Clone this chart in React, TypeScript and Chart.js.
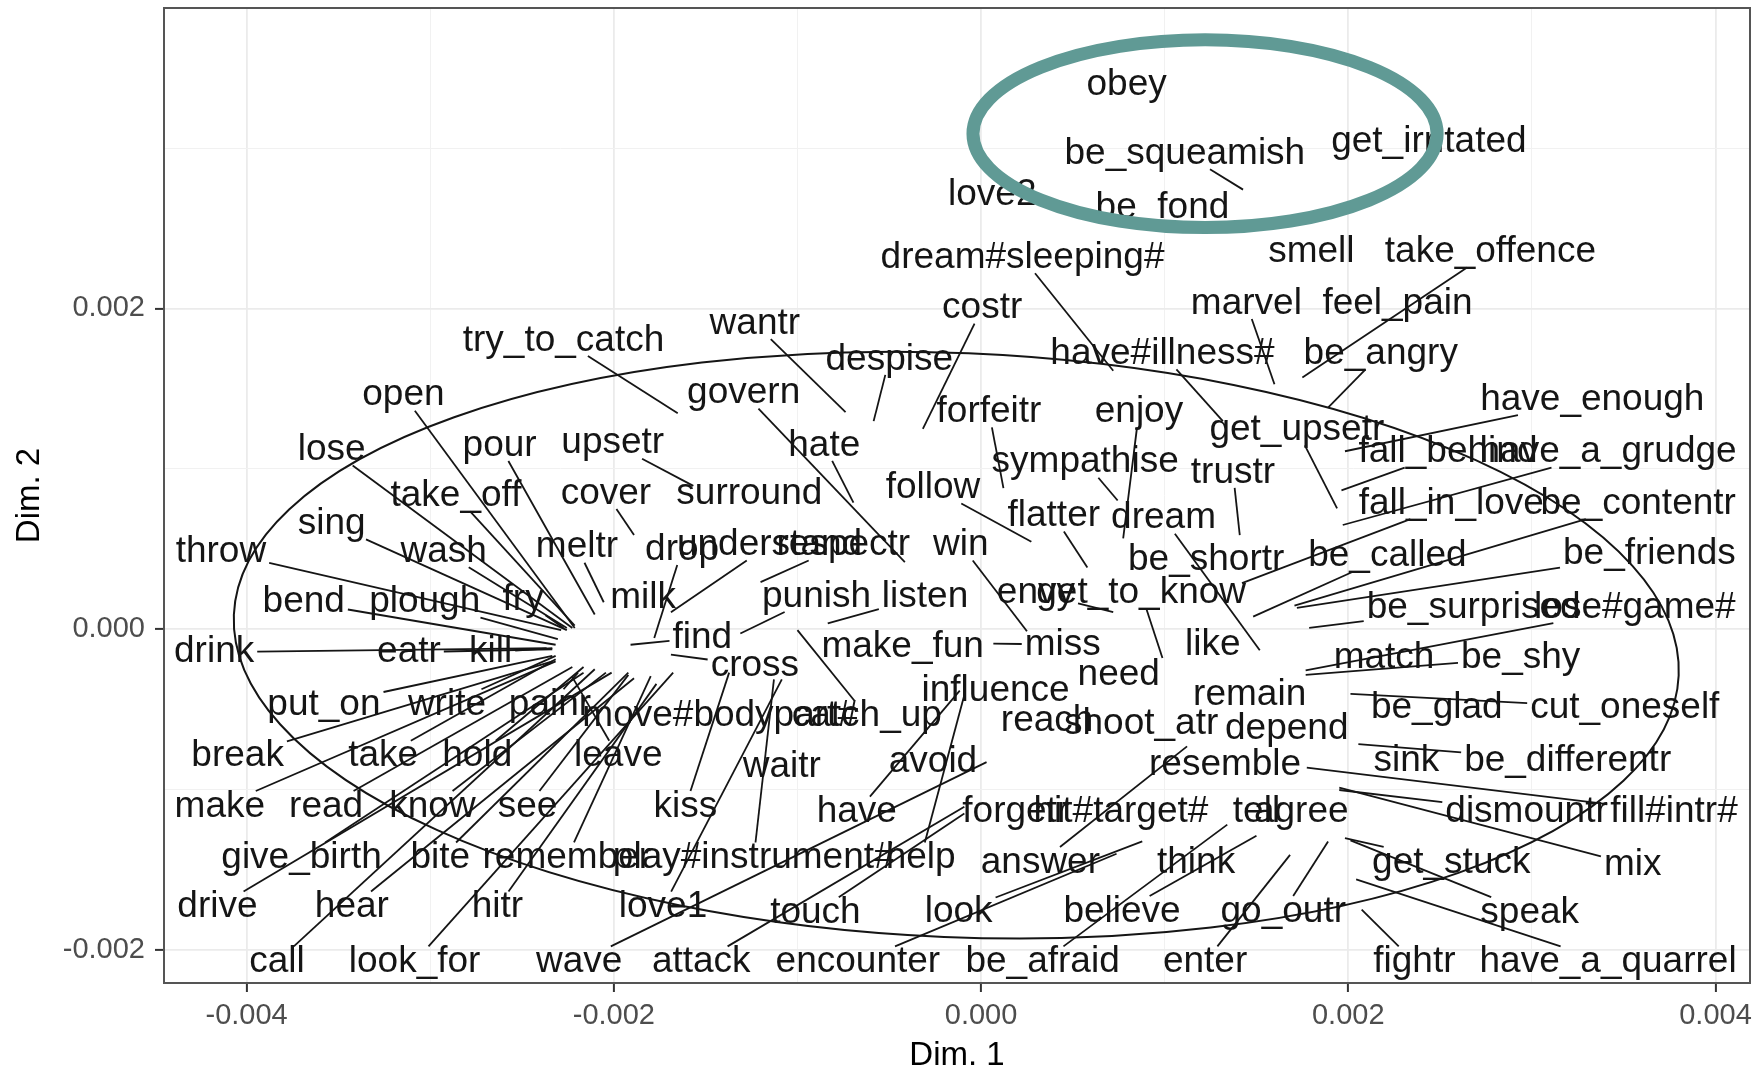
import React, { useEffect, useRef } from "react";
import { Chart, registerables } from "chart.js";

Chart.register(...registerables);

// ---------------- data (Dim. 1 / Dim. 2 coordinates) ----------------
const verbs = [
  "obey", "be_squeamish", "get_irritated", "love2", "be_fond",
  "dream#sleeping#", "smell", "take_offence", "marvel", "feel_pain",
  "costr", "wantr", "try_to_catch", "have#illness#", "be_angry",
  "despise", "open", "govern", "have_enough", "forfeitr",
  "enjoy", "get_upsetr", "lose", "pour", "upsetr",
  "hate", "fall_behind", "have_a_grudge", "trustr", "sympathise",
  "take_off", "cover", "surround", "follow", "fall_in_love",
  "be_contentr", "flatter", "dream", "sing", "throw",
  "wash", "meltr", "drop", "understand", "respectr",
  "win", "be_shortr", "be_called", "be_friends", "bend",
  "plough", "fry", "milk", "punish", "listen",
  "envy", "get_to_know", "be_surprised", "lose#game#", "drink",
  "eatr", "kill", "find", "make_fun", "miss",
  "like", "match", "be_shy", "cross", "need",
  "influence", "remain", "put_on", "write", "painr",
  "move#bodypart#", "catch_up", "cut_oneself", "be_glad", "reach",
  "shoot_atr", "depend", "break", "take", "hold",
  "leave", "sink", "be_differentr", "waitr", "avoid",
  "resemble", "make", "read", "know", "see",
  "kiss", "have", "forgetr", "hit#target#", "tell",
  "agree", "dismountr", "fill#intr#", "give_birth", "bite",
  "remember", "play#instrument#", "help", "answer", "think",
  "mix", "get_stuck", "drive", "hear", "hitr",
  "love1", "touch", "look", "believe", "go_outr",
  "speak", "call", "look_for", "wave", "attack",
  "encounter", "be_afraid", "enter", "fightr", "have_a_quarrel",
];

// label positions
const textX = [
  0.793e-3, 1.110e-3, 2.439e-3, 0.061e-3, 0.988e-3,
  0.226e-3, 1.799e-3, 2.774e-3, 1.445e-3, 2.268e-3,
  0.006e-3, -1.232e-3, -2.274e-3, 0.988e-3, 2.177e-3,
  -0.500e-3, -3.146e-3, -1.293e-3, 3.329e-3, 0.043e-3,
  0.860e-3, 1.720e-3, -3.537e-3, -2.622e-3, -2.006e-3,
  -0.854e-3, 2.543e-3, 3.415e-3, 1.372e-3, 0.567e-3,
  -2.860e-3, -2.043e-3, -1.262e-3, -0.262e-3, 2.561e-3,
  3.579e-3, 0.396e-3, 0.994e-3, -3.537e-3, -4.140e-3,
  -2.927e-3, -2.201e-3, -1.628e-3, -1.152e-3, -0.750e-3,
  -0.110e-3, 1.226e-3, 2.213e-3, 3.640e-3, -3.689e-3,
  -3.030e-3, -2.494e-3, -1.841e-3, -0.896e-3, -0.305e-3,
  0.299e-3, 0.872e-3, 2.683e-3, 3.561e-3, -4.177e-3,
  -3.116e-3, -2.671e-3, -1.518e-3, -0.427e-3, 0.445e-3,
  1.262e-3, 2.195e-3, 2.939e-3, -1.232e-3, 0.750e-3,
  0.079e-3, 1.463e-3, -3.579e-3, -2.909e-3, -2.348e-3,
  -1.421e-3, -0.622e-3, 3.506e-3, 2.482e-3, 0.360e-3,
  0.872e-3, 1.665e-3, -4.049e-3, -3.256e-3, -2.744e-3,
  -1.976e-3, 2.317e-3, 3.195e-3, -1.085e-3, -0.262e-3,
  1.329e-3, -4.146e-3, -3.567e-3, -2.988e-3, -2.470e-3,
  -1.610e-3, -0.677e-3, 0.189e-3, 0.762e-3, 1.500e-3,
  1.744e-3, 2.971e-3, 3.774e-3, -3.701e-3, -2.945e-3,
  -2.256e-3, -1.238e-3, -0.329e-3, 0.323e-3, 1.171e-3,
  3.549e-3, 2.561e-3, -4.159e-3, -3.427e-3, -2.634e-3,
  -1.732e-3, -0.902e-3, -0.122e-3, 0.768e-3, 1.646e-3,
  2.988e-3, -3.835e-3, -3.085e-3, -2.189e-3, -1.524e-3,
  -0.671e-3, 0.335e-3, 1.220e-3, 2.360e-3, 3.415e-3,
];
const textY = [
  3.410e-3, 2.978e-3, 3.054e-3, 2.720e-3, 2.643e-3,
  2.329e-3, 2.364e-3, 2.364e-3, 2.043e-3, 2.043e-3,
  2.015e-3, 1.918e-3, 1.813e-3, 1.729e-3, 1.729e-3,
  1.695e-3, 1.471e-3, 1.485e-3, 1.444e-3, 1.367e-3,
  1.367e-3, 1.255e-3, 1.130e-3, 1.158e-3, 1.172e-3,
  1.158e-3, 1.116e-3, 1.116e-3, 0.990e-3, 1.053e-3,
  0.844e-3, 0.858e-3, 0.858e-3, 0.893e-3, 0.795e-3,
  0.795e-3, 0.718e-3, 0.704e-3, 0.669e-3, 0.495e-3,
  0.495e-3, 0.523e-3, 0.509e-3, 0.537e-3, 0.537e-3,
  0.537e-3, 0.446e-3, 0.467e-3, 0.481e-3, 0.181e-3,
  0.181e-3, 0.195e-3, 0.209e-3, 0.216e-3, 0.216e-3,
  0.237e-3, 0.237e-3, 0.146e-3, 0.146e-3, -0.132e-3,
  -0.132e-3, -0.132e-3, -0.042e-3, -0.098e-3, -0.084e-3,
  -0.084e-3, -0.167e-3, -0.167e-3, -0.216e-3, -0.272e-3,
  -0.370e-3, -0.397e-3, -0.460e-3, -0.460e-3, -0.460e-3,
  -0.530e-3, -0.530e-3, -0.481e-3, -0.481e-3, -0.558e-3,
  -0.579e-3, -0.607e-3, -0.781e-3, -0.781e-3, -0.781e-3,
  -0.781e-3, -0.809e-3, -0.809e-3, -0.844e-3, -0.816e-3,
  -0.837e-3, -1.095e-3, -1.095e-3, -1.095e-3, -1.095e-3,
  -1.095e-3, -1.130e-3, -1.130e-3, -1.130e-3, -1.130e-3,
  -1.130e-3, -1.130e-3, -1.130e-3, -1.416e-3, -1.416e-3,
  -1.416e-3, -1.416e-3, -1.416e-3, -1.444e-3, -1.444e-3,
  -1.457e-3, -1.444e-3, -1.722e-3, -1.722e-3, -1.722e-3,
  -1.722e-3, -1.757e-3, -1.750e-3, -1.750e-3, -1.750e-3,
  -1.757e-3, -2.064e-3, -2.064e-3, -2.064e-3, -2.064e-3,
  -2.064e-3, -2.064e-3, -2.064e-3, -2.064e-3, -2.064e-3,
];

// actual point positions (null = the label sits on its point, no leader line)
const pointX = [
  null, 1.427e-3, null, null, null,
  0.720e-3, null, 1.750e-3, 1.598e-3, null,
  -0.317e-3, -0.738e-3, -1.652e-3, 1.317e-3, 1.890e-3,
  -0.585e-3, -2.213e-3, -0.415e-3, 1.982e-3, 0.122e-3,
  0.774e-3, 1.939e-3, -2.226e-3, -2.104e-3, -1.567e-3,
  -0.695e-3, 1.963e-3, 1.970e-3, 1.409e-3, 0.744e-3,
  -2.213e-3, -1.890e-3, null, 0.274e-3, 1.421e-3,
  1.707e-3, 0.579e-3, 1.518e-3, -2.256e-3, -2.287e-3,
  -2.256e-3, -2.055e-3, -1.780e-3, -1.689e-3, -1.201e-3,
  0.250e-3, null, 1.482e-3, 1.720e-3, -2.317e-3,
  -2.305e-3, -2.274e-3, null, -1.311e-3, -0.835e-3,
  0.720e-3, 0.988e-3, 1.787e-3, 1.768e-3, -2.366e-3,
  -2.335e-3, -2.335e-3, -1.909e-3, null, 0.067e-3,
  null, null, 1.768e-3, -1.689e-3, null,
  null, null, -2.335e-3, -2.317e-3, -2.195e-3,
  null, -1.000e-3, 2.012e-3, null, null,
  null, null, -2.335e-3, -2.317e-3, -2.165e-3,
  -2.226e-3, null, 2.055e-3, null, null,
  null, -2.317e-3, -2.226e-3, -2.043e-3, -1.921e-3,
  -1.372e-3, -0.116e-3, null, null, null,
  null, 1.951e-3, 1.774e-3, -2.165e-3, -1.921e-3,
  -1.799e-3, -1.128e-3, -0.091e-3, 1.122e-3, null,
  1.951e-3, 1.982e-3, -2.012e-3, -1.890e-3, -1.768e-3,
  -1.085e-3, -0.091e-3, 0.878e-3, 1.500e-3, 1.890e-3,
  2.012e-3, -2.104e-3, -1.677e-3, 0.030e-3, -0.091e-3,
  0.738e-3, 1.341e-3, 1.683e-3, 2.073e-3, 2.043e-3,
];
const pointY = [
  null, 2.741e-3, null, null, null,
  1.611e-3, null, 1.569e-3, 1.527e-3, null,
  1.248e-3, 1.353e-3, 1.346e-3, 1.297e-3, 1.381e-3,
  1.297e-3, 0.007e-3, 0.418e-3, 1.109e-3, 0.879e-3,
  0.565e-3, 0.753e-3, 0.007e-3, 0.091e-3, 0.893e-3,
  0.788e-3, 0.865e-3, 0.649e-3, 0.586e-3, 0.802e-3,
  0.021e-3, 0.586e-3, null, 0.544e-3, 0.286e-3,
  0.146e-3, 0.384e-3, -0.132e-3, -0.007e-3, -0.007e-3,
  0.007e-3, 0.167e-3, -0.056e-3, 0.105e-3, 0.293e-3,
  -0.014e-3, null, 0.077e-3, 0.132e-3, -0.098e-3,
  -0.063e-3, 0.007e-3, null, -0.028e-3, 0.035e-3,
  0.105e-3, -0.181e-3, 0.007e-3, -0.258e-3, -0.119e-3,
  -0.126e-3, -0.119e-3, -0.098e-3, null, -0.091e-3,
  null, null, -0.286e-3, -0.160e-3, null,
  null, null, -0.167e-3, -0.167e-3, -0.272e-3,
  null, -0.007e-3, -0.404e-3, null, null,
  null, null, -0.202e-3, -0.188e-3, -0.237e-3,
  -0.300e-3, null, -0.718e-3, null, null,
  null, -0.202e-3, -0.237e-3, -0.272e-3, -0.286e-3,
  -0.272e-3, -0.384e-3, null, null, null,
  null, -1.004e-3, -0.865e-3, -0.272e-3, -0.272e-3,
  -0.293e-3, -0.314e-3, -0.411e-3, -0.732e-3, null,
  -0.990e-3, -1.304e-3, -0.272e-3, -0.307e-3, -0.342e-3,
  -0.314e-3, -1.151e-3, -1.325e-3, -1.290e-3, -1.325e-3,
  -1.318e-3, -0.251e-3, -0.272e-3, -0.830e-3, -1.109e-3,
  -1.402e-3, -1.220e-3, -1.409e-3, -1.750e-3, -1.562e-3,
];

// axes
const xTicks = [-0.004, -0.003, -0.002, -0.001, 0, 0.001, 0.002, 0.003, 0.004];
const yTicks = [-0.002, -0.001, 0, 0.001, 0.002, 0.003];
const xRange = [-0.00445, 0.004188];
const yRange = [-0.002208, 0.003874];

// ellipses (centre and semi-axes in data units)
const mainEllipse = [-0.135e-3, -0.100e-3, 3.938e-3, 1.822e-3];
const highlightEllipse = [1.22e-3, 3.09e-3, 1.264e-3, 0.586e-3];

// ---------------- drawing ----------------
const FONT = '"Liberation Sans", Arial, Helvetica, sans-serif';
const LABEL_SIZE = 37;
const TEXT_SHIFT = 2;

const isMajor = (v: number) => Math.round(v * 1000) % 2 === 0;

function drawEllipse(ctx: CanvasRenderingContext2D, xs: any, ys: any, e: number[], rot: number, color: string, width: number) {
  const cx = xs.getPixelForValue(e[0]);
  const cy = ys.getPixelForValue(e[1]);
  const rx = Math.abs(xs.getPixelForValue(e[0] + e[2]) - cx);
  const ry = Math.abs(ys.getPixelForValue(e[1] + e[3]) - cy);
  ctx.save();
  ctx.strokeStyle = color;
  ctx.lineWidth = width;
  ctx.beginPath();
  ctx.ellipse(cx, cy, rx, ry, rot, 0, Math.PI * 2);
  ctx.stroke();
  ctx.restore();
}

const repelPlugin = {
  id: "repelLabels",
  beforeDatasetsDraw(chart: any) {
    const { ctx, chartArea: a } = chart;
    ctx.save();
    ctx.strokeStyle = "#555555";
    ctx.lineWidth = 2;
    ctx.strokeRect(a.left, a.top, a.right - a.left, a.bottom - a.top);
    ctx.restore();
  },
  afterDatasetsDraw(chart: any) {
    const { ctx, scales } = chart;
    const xs = scales.x;
    const ys = scales.y;
    ctx.save();
    ctx.font = `${LABEL_SIZE}px ${FONT}`;
    ctx.strokeStyle = "#151515";
    ctx.lineWidth = 1.8;
    verbs.forEach((v, i) => {
      const px0 = pointX[i];
      const py0 = pointY[i];
      if (px0 == null || py0 == null) return;
      const tx = xs.getPixelForValue(textX[i]);
      const ty = ys.getPixelForValue(textY[i]) + TEXT_SHIFT;
      const px = xs.getPixelForValue(px0);
      const py = ys.getPixelForValue(py0);
      const hw = ctx.measureText(v).width / 2 + 3;
      const hh = LABEL_SIZE * 0.42;
      const dx = px - tx;
      const dy = py - ty;
      if (Math.abs(dx) <= hw && Math.abs(dy) <= hh) return;
      const s = Math.min(
        dx !== 0 ? hw / Math.abs(dx) : Infinity,
        dy !== 0 ? hh / Math.abs(dy) : Infinity
      );
      const ex = tx + dx * s;
      const ey = ty + dy * s;
      if (Math.hypot(px - ex, py - ey) < 6) return;
      ctx.beginPath();
      ctx.moveTo(ex, ey);
      ctx.lineTo(px, py);
      ctx.stroke();
    });

    drawEllipse(ctx, xs, ys, mainEllipse, 0.042, "#151515", 2);

    ctx.fillStyle = "#151515";
    ctx.textAlign = "center";
    ctx.textBaseline = "middle";
    verbs.forEach((v, i) => {
      ctx.fillText(v, xs.getPixelForValue(textX[i]), ys.getPixelForValue(textY[i]) + TEXT_SHIFT);
    });

    drawEllipse(ctx, xs, ys, highlightEllipse, 0, "rgb(96,154,149)", 13);
    ctx.restore();
  },
};

function gridColor(c: any) {
  if (!c.tick) return "#ebebeb";
  return isMajor(c.tick.value) ? "#ebebeb" : "#f1f1f1";
}
function gridWidth(c: any) {
  if (!c.tick) return 1.8;
  return isMajor(c.tick.value) ? 1.8 : 1;
}
function tickColor(c: any) {
  if (!c.tick) return "#333333";
  return isMajor(c.tick.value) ? "#333333" : "rgba(0,0,0,0)";
}
const tickLabel = (v: any) => (isMajor(Number(v)) ? Number(v).toFixed(3) : "");

export default function App() {
  const ref = useRef<HTMLCanvasElement | null>(null);

  useEffect(() => {
    if (!ref.current) return;
    const chart = new Chart(ref.current, {
      type: "scatter",
      data: {
        datasets: [
          {
            data: verbs.map((_, i) => ({
              x: pointX[i] ?? textX[i],
              y: pointY[i] ?? textY[i],
            })),
            pointRadius: 0,
            pointHoverRadius: 0,
          },
        ],
      },
      options: {
        responsive: false,
        maintainAspectRatio: false,
        animation: false,
        devicePixelRatio: 1,
        events: [],
        layout: { padding: { top: 8, right: 8, left: 0, bottom: 0 } },
        plugins: { legend: { display: false }, tooltip: { enabled: false } },
        scales: {
          x: {
            type: "linear",
            min: xRange[0],
            max: xRange[1],
            afterBuildTicks: (s: any) => {
              s.ticks = xTicks.map((value) => ({ value }));
            },
            afterFit: (s: any) => {
              s.height = 89;
              s.paddingLeft = 0;
              s.paddingRight = 0;
            },
            ticks: {
              autoSkip: false,
              maxRotation: 0,
              padding: 7,
              color: "#4d4d4d",
              font: { size: 29, family: FONT },
              callback: tickLabel,
            },
            grid: {
              color: gridColor,
              lineWidth: gridWidth,
              tickColor: tickColor,
              tickLength: 9,
              tickWidth: 2,
            },
            border: { display: false },
            title: {
              display: true,
              text: "Dim. 1",
              color: "#000000",
              font: { size: 33, family: FONT, lineHeight: 1 },
              padding: { top: 0, bottom: 0 },
            },
          },
          y: {
            type: "linear",
            min: yRange[0],
            max: yRange[1],
            afterBuildTicks: (s: any) => {
              s.ticks = yTicks.map((value) => ({ value }));
            },
            afterFit: (s: any) => {
              s.width = 164;
              s.paddingTop = 0;
              s.paddingBottom = 0;
            },
            ticks: {
              autoSkip: false,
              padding: 10,
              color: "#4d4d4d",
              font: { size: 29, family: FONT },
              callback: tickLabel,
            },
            grid: {
              color: gridColor,
              lineWidth: gridWidth,
              tickColor: tickColor,
              tickLength: 9,
              tickWidth: 2,
            },
            border: { display: false },
            title: {
              display: true,
              text: "Dim. 2",
              color: "#000000",
              font: { size: 33, family: FONT, lineHeight: 1 },
              padding: { top: 13, bottom: 0 },
            },
          },
        },
      } as any,
      plugins: [repelPlugin],
    });
    return () => chart.destroy();
  }, []);

  return (
    <div
      style={{
        position: "fixed",
        left: 0,
        top: 0,
        width: 1758,
        height: 1072,
        background: "#ffffff",
      }}
    >
      <canvas
        ref={ref}
        width={1758}
        height={1072}
        style={{ display: "block", width: 1758, height: 1072 }}
      />
    </div>
  );
}
